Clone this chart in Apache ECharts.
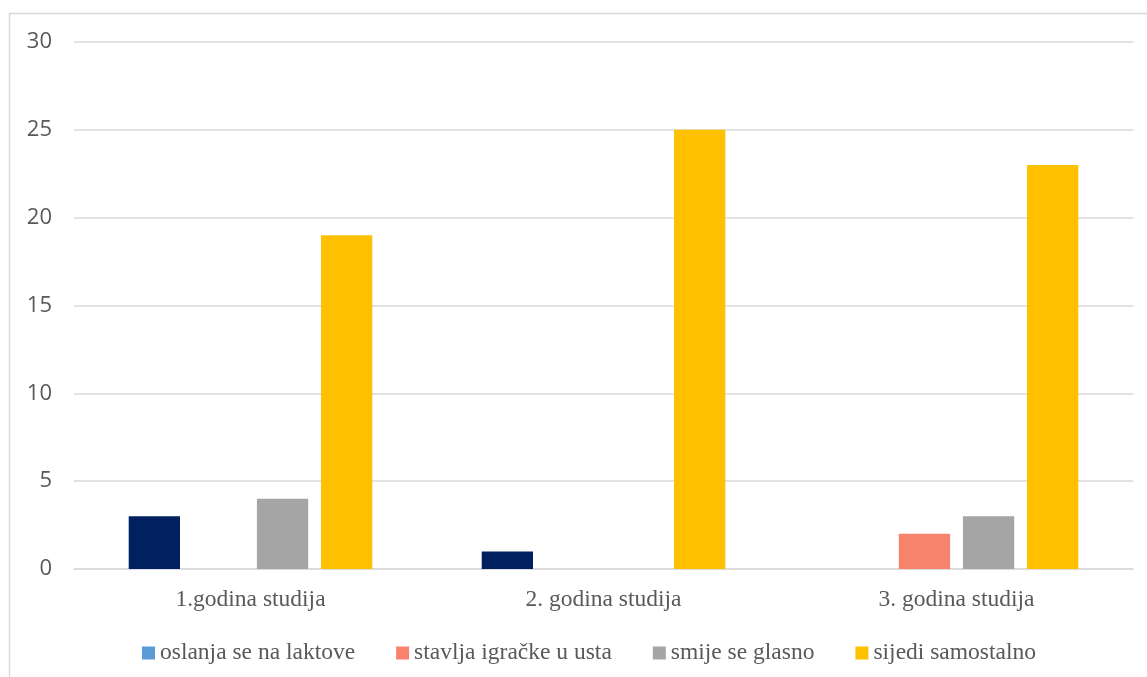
<!DOCTYPE html>
<html><head><meta charset="utf-8">
<script src="https://cdn.jsdelivr.net/npm/echarts@6/dist/echarts.min.js"></script>
<style>html,body{margin:0;padding:0;background:#fff}#c{width:1147px;height:677px}</style>
</head><body><div id="c"></div>
<script>
const categories = ['1.godina studija', '2. godina studija', '3. godina studija'];
const seriesNames = ['oslanja se na laktove', 'stavlja igračke u usta', 'smije se glasno', 'sijedi samostalno'];
const oslanja = [3, 1, 0];
const stavlja = [0, 0, 2];
const smije = [4, 0, 3];
const sijedi = [19, 25, 23];
const yTicks = [0, 5, 10, 15, 20, 25, 30];

const barColors = ['#002060', '#F8836C', '#A5A5A5', '#FFC000'];
const legendColors = ['#5B9BD5', '#F8836C', '#A5A5A5', '#FFC000'];
const values = [oslanja, stavlja, smije, sijedi];

const chart = echarts.init(document.getElementById('c'));
chart.setOption({
  animation: false,
  backgroundColor: '#fff',
  graphic: [{
    type: 'rect', shape: {x: 9.5, y: 13.5, width: 1200, height: 700},
    style: {fill: 'none', stroke: '#d9d9d9', lineWidth: 1.5}, silent: true
  }],
  grid: {left: 74, right: 14, top: 42, bottom: 108},
  legend: {
    left: 137, top: 636,
    itemWidth: 13, itemHeight: 13, itemGap: 41,
    icon: 'rect',
    textStyle: {fontFamily: 'Liberation Serif', fontSize: 23.5, color: '#595959'},
    data: seriesNames.map((n, i) => ({name: n, itemStyle: {color: legendColors[i]}}))
  },
  xAxis: {
    type: 'category', data: categories,
    axisLine: {lineStyle: {color: '#d9d9d9', width: 1.5}},
    axisTick: {show: false},
    axisLabel: {fontFamily: 'Liberation Serif', fontSize: 23.5, color: '#595959', margin: 19}
  },
  yAxis: {
    type: 'value', min: yTicks[0], max: yTicks[yTicks.length - 1], interval: 5,
    axisLine: {show: false}, axisTick: {show: false},
    splitLine: {lineStyle: {color: '#d9d9d9', width: 1.5}},
    axisLabel: {fontFamily: 'Open Sans', fontSize: 22, color: '#595959', margin: 22}
  },
  series: seriesNames.map((n, i) => ({
    name: n, type: 'bar', data: values[i],
    barGap: '25%', barCategoryGap: '31%',
    itemStyle: {color: barColors[i]}
  }))
});
</script></body></html>
